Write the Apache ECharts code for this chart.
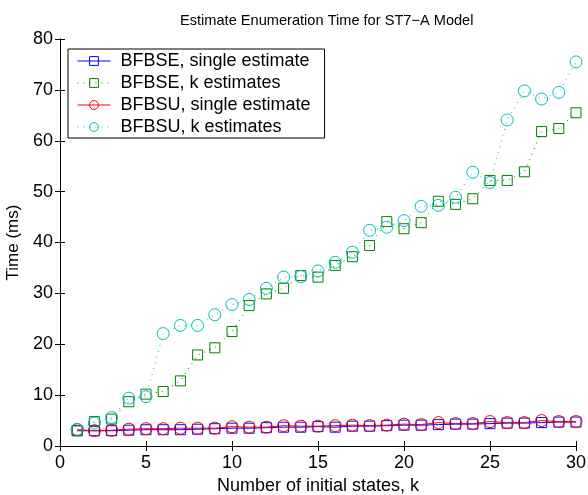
<!DOCTYPE html>
<html>
<head>
    <meta charset="utf-8">
    <title>Estimate Enumeration Time</title>
    <script src="https://cdn.jsdelivr.net/npm/echarts@6/dist/echarts.min.js"></script>
    <style>
        html, body { margin: 0; padding: 0; background: #fff; }
        #chart1 { width: 588px; height: 495px; }
    </style>
</head>
<body>
<div id="chart1"></div>
<script type="text/javascript">
    // 数据 (k = 1..30)
    var states = [1, 2, 3, 4, 5, 6, 7, 8, 9, 10, 11, 12, 13, 14, 15,
        16, 17, 18, 19, 20, 21, 22, 23, 24, 25, 26, 27, 28, 29, 30];
    var bfbseSingle = [3.0, 3.0, 3.0, 3.1, 3.2, 3.2, 3.2, 3.3, 3.4, 3.5, 3.5, 3.6, 3.7, 3.7, 3.8,
        3.7, 3.9, 3.9, 4.0, 4.1, 4.1, 4.2, 4.3, 4.3, 4.4, 4.5, 4.5, 4.6, 4.7, 4.7];
    var bfbseK = [3.0, 4.8, 5.3, 8.7, 10.2, 10.7, 12.8, 17.9, 19.3, 22.5, 27.6, 29.9, 31.0, 33.5, 33.2,
        35.5, 37.2, 39.4, 44.1, 42.7, 43.9, 48.1, 47.5, 48.6, 52.2, 52.2, 53.9, 61.8, 62.4, 65.5];
    var bfbsuSingle = [3.2, 3.0, 3.1, 3.3, 3.4, 3.4, 3.5, 3.5, 3.5, 3.8, 3.7, 3.7, 4.0, 3.9, 3.9,
        4.0, 4.1, 4.0, 4.1, 4.3, 4.2, 4.6, 4.4, 4.4, 4.8, 4.6, 4.6, 5.0, 4.8, 4.8];
    var bfbsuK = [3.3, 4.5, 5.6, 9.4, 9.7, 22.1, 23.7, 23.7, 25.8, 27.8, 28.8, 31.0, 33.2, 33.3, 34.4,
        36.1, 38.1, 42.4, 43.0, 44.3, 47.1, 47.3, 48.9, 53.8, 51.8, 64.1, 69.8, 68.2, 69.5, 75.5];
    var seriesNames = ['BFBSE, single estimate', 'BFBSE, k estimates', 'BFBSU, single estimate', 'BFBSU, k estimates'];

    function pairs(vals) {
        return states.map(function (k, i) { return [k, vals[i]]; });
    }

    var font = 'Liberation Sans, Arial, sans-serif';

    function mkSeries(name, vals, color, symbol, dotted, size) {
        return {
            name: name,
            type: 'line',
            data: pairs(vals),
            symbol: symbol,
            symbolSize: size,
            showSymbol: true,
            lineStyle: { color: color, width: 1, type: dotted ? [1, 5] : 'solid' },
            itemStyle: { color: 'rgba(0,0,0,0)', borderColor: color, borderWidth: 1 },
            emphasis: { disabled: true },
            animation: false
        };
    }

    var myChart1 = echarts.init(document.getElementById('chart1'));
    var axisLine = { show: true, lineStyle: { color: '#000', width: 1 } };
    var tick = { inside: true, length: 5, lineStyle: { color: '#000' } };
    myChart1.setOption({
        backgroundColor: '#fff',
        title: {
            text: 'Estimate Enumeration Time for ST7\u2212A Model',
            left: 175,
            top: 8,
            textStyle: { fontFamily: font, fontSize: 14.6, fontWeight: 'normal', color: '#000' }
        },
        legend: {
            data: seriesNames,
            orient: 'vertical',
            left: 68,
            top: 49,
            itemWidth: 33,
            itemHeight: 11,
            itemGap: 4,
            padding: [3, 14, 2, 9],
            borderColor: '#000',
            borderWidth: 1,
            borderRadius: 0,
            backgroundColor: '#fff',
            lineStyle: { width: 1 },
            itemStyle: { borderWidth: 1 },
            textStyle: { fontFamily: font, fontSize: 18, color: '#000', padding: [0, 0, 0, 5] }
        },
        grid: { left: 60, right: 12, top: 39, bottom: 49, outerBoundsMode: 'none' },
        xAxis: [{
            type: 'value', min: 0, max: 30, interval: 5,
            name: 'Number of initial states, k',
            nameLocation: 'middle', nameGap: 29,
            nameTextStyle: { fontFamily: font, fontSize: 18, color: '#000' },
            axisLine: axisLine,
            axisTick: tick,
            axisLabel: { fontFamily: font, fontSize: 18, color: '#000', margin: 8 },
            splitLine: { show: false }
        }, {
            type: 'value', min: 0, max: 30, interval: 5, position: 'top',
            axisLine: axisLine,
            axisTick: tick,
            axisLabel: { show: false },
            splitLine: { show: false }
        }],
        yAxis: [{
            type: 'value', min: 0, max: 80, interval: 10,
            name: 'Time (ms)',
            nameLocation: 'middle', nameGap: 35,
            nameTextStyle: { fontFamily: font, fontSize: 17, color: '#000' },
            axisLine: axisLine,
            axisTick: tick,
            axisLabel: { fontFamily: font, fontSize: 18, color: '#000', margin: 7 },
            splitLine: { show: false }
        }, {
            type: 'value', min: 0, max: 80, interval: 10, position: 'right',
            axisLine: axisLine,
            axisTick: tick,
            axisLabel: { show: false },
            splitLine: { show: false }
        }],
        series: [
            mkSeries(seriesNames[0], bfbseSingle, '#0000ff', 'rect', false, 10),
            mkSeries(seriesNames[1], bfbseK, '#008000', 'rect', true, 10),
            mkSeries(seriesNames[2], bfbsuSingle, '#ff0000', 'circle', false, 12),
            mkSeries(seriesNames[3], bfbsuK, '#00bfbf', 'circle', true, 12)
        ]
    });
</script>
</body>
</html>
